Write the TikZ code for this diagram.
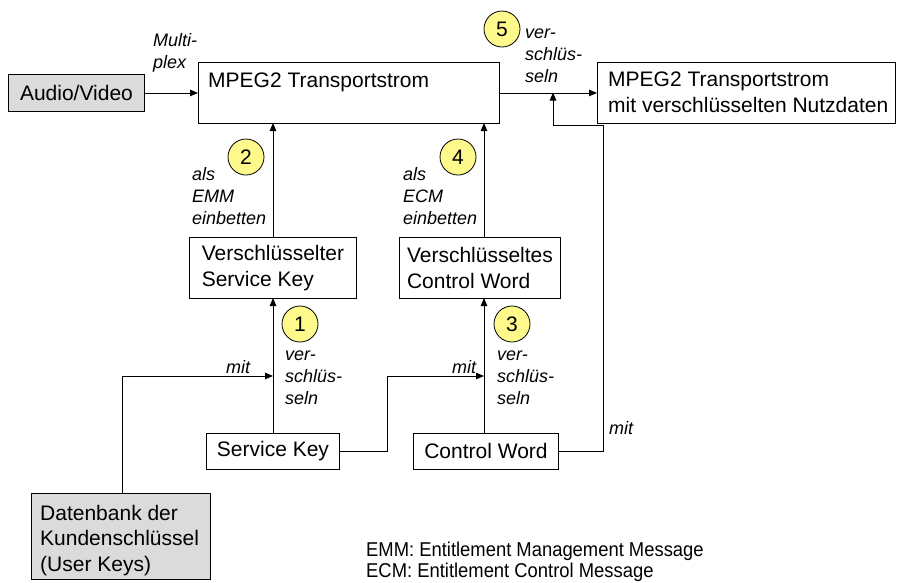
\documentclass[tikz,border=0pt]{standalone}
\usepackage{fontspec}
\setmainfont{Liberation Sans}
\newfontfamily\legendfont[FakeStretch=0.92]{Liberation Sans}
\usetikzlibrary{arrows.meta}

\tikzset{
  box/.style={draw, line width=0.9pt, inner sep=0pt, anchor=north west},
  graybox/.style={box, fill=black!14},
  boxtext/.style={inner sep=0pt, font=\fontsize{21}{25.5}\selectfont, align=left},
  note/.style={inner sep=0pt, anchor=west, font=\fontsize{18}{22}\selectfont\itshape, align=left},
  stepnum/.style={circle, draw, line width=0.8pt, fill=yellow!45, minimum size=36pt,
    inner sep=0pt, font=\fontsize{21}{25}\selectfont},
  conn/.style={line width=0.9pt},
  arr/.style={conn, -{Triangle[length=8pt,width=6.5pt]}},
}

\begin{document}
\begin{tikzpicture}[x=1pt, y=-1pt]
\useasboundingbox (0,0) rectangle (897,582);

% main boxes
\node[graybox, minimum width=136pt, minimum height=37pt] (av) at (8,74) {};
\node[boxtext] (avt) at (av.center) {Audio/Video};

\node[box, minimum width=301pt, minimum height=61pt] (ts) at (198,62) {};
\node[boxtext, anchor=west] (tst) at (208,82) {MPEG2 Transportstrom};

\node[box, minimum width=298pt, minimum height=61pt] (out) at (597,62) {};
\node[boxtext, anchor=west] (outt) at (608,92.5) {MPEG2 Transportstrom\\mit verschlüsselten Nutzdaten};

\node[box, minimum width=167pt, minimum height=61pt] (vsk) at (189,237) {};
\node[boxtext] (vskt) at (vsk.center) {Verschlüsselter\\Service Key};

\node[box, minimum width=161pt, minimum height=61pt] (vcw) at (399,237) {};
\node[boxtext] (vcwt) at (vcw.center) {Verschlüsseltes\\Control Word};

\node[box, minimum width=133pt, minimum height=36pt] (sk) at (206,433) {};
\node[boxtext] (skt) at (sk.center) {Service Key};

\node[box, minimum width=145pt, minimum height=36pt] (cw) at (413,433) {};
\node[boxtext] (cwt) at (cw.center) {Control Word};

\node[graybox, minimum width=179pt, minimum height=86pt] (db) at (31,493) {};
\node[boxtext, anchor=west] (dbt) at (40,540.5) {Datenbank der\\Kundenschlüssel\\(User Keys)};

% junction points of the connectors
\coordinate (a1) at (273,376);
\coordinate (a3) at (484,376);
\coordinate (a5) at (553,92.5);

% connectors
\draw[arr] (av.east) -- (ts.west |- av.east);
\draw[arr] (ts.east |- out.west) -- (out.west);
\draw[arr] (vsk.north -| 273,0) -- (273,123);
\draw[arr] (vcw.north -| 484,0) -- (484,123);
\draw[arr] (sk.north -| 273,0) -- (273,298);
\draw[arr] (cw.north -| 484,0) -- (484,298);
\draw[arr] (db.north -| 122,0) -- (122,376) -- (a1);
\draw[arr] (sk.east |- 0,451.5) -- (387.5,451.5) -- (387.5,376) -- (a3);
\draw[arr] (cw.east |- 0,451.5) -- (603.5,451.5) -- (603.5,125.5) -- (553,125.5) -- (a5);

% step numbers
\node[stepnum] (s1) at (300,324) {1};
\node[stepnum] (s2) at (246,157) {2};
\node[stepnum] (s3) at (512,324) {3};
\node[stepnum] (s4) at (458,157) {4};
\node[stepnum] (s5) at (502,29) {5};

% connector labels
\node[note] (lmux) at (153,53) {Multi-\\plex};
\node[note] (l5) at (525,55.5) {ver-\\schlüs-\\seln};
\node[note] (l2) at (192,196) {als\\EMM\\einbetten};
\node[note] (l4) at (403,196) {als\\ECM\\einbetten};
\node[note] (l1) at (285,378) {ver-\\schlüs-\\seln};
\node[note] (l3) at (497,378) {ver-\\schlüs-\\seln};
\node[note] (m1) at (226,367) {mit};
\node[note] (m3) at (452,367) {mit};
\node[note] (m5) at (609,428) {mit};

% legend
\node[inner sep=0pt, anchor=west, align=left, font=\legendfont\fontsize{20}{21}\selectfont] (legend) at (366,562)
  {EMM: Entitlement Management Message\\ECM: Entitlement Control Message};
\end{tikzpicture}
\end{document}
